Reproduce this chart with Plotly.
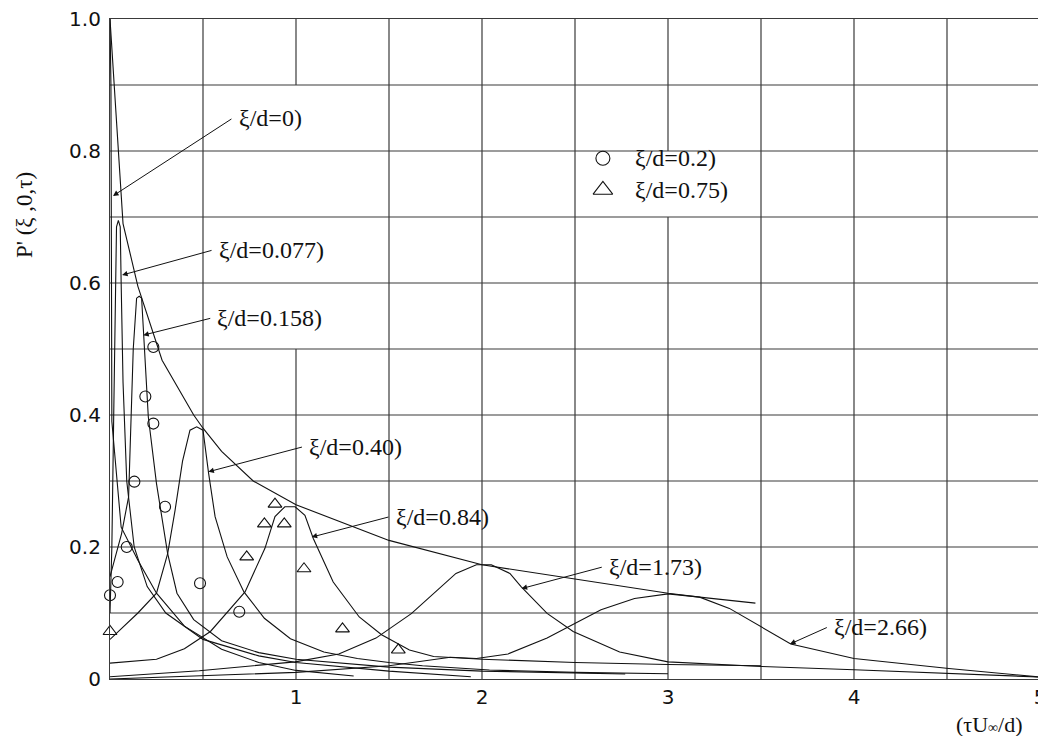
import plotly.graph_objects as go

# ---------------- data ----------------
env_x = [0.0, 0.07, 0.15, 0.28, 0.45, 0.5, 0.6, 0.77, 1.0, 1.5, 2.0, 2.5, 3.0, 3.17, 3.47]
env_y = [1.0, 0.69, 0.595, 0.483, 0.40, 0.38, 0.345, 0.30, 0.264, 0.21, 0.173, 0.151, 0.13, 0.124, 0.115]

c0_x = [0.0, 0.005, 0.008, 0.01, 0.06, 0.15, 0.25, 0.4, 0.6, 0.8, 1.0, 1.31]
c0_y = [1.0, 0.9, 0.6, 0.39, 0.23, 0.18, 0.13, 0.08, 0.045, 0.025, 0.013, 0.0045]

c077_x = [0.0, 0.01, 0.02, 0.028, 0.035, 0.045, 0.055, 0.06, 0.07, 0.09, 0.13, 0.2, 0.3, 0.5, 0.8, 1.0, 1.5, 1.94]
c077_y = [0.10, 0.2, 0.4, 0.6, 0.685, 0.695, 0.685, 0.6, 0.45, 0.3, 0.2, 0.14, 0.1, 0.06, 0.035, 0.025, 0.012, 0.0035]

c158_x = [0.0, 0.062, 0.10, 0.125, 0.143, 0.157, 0.17, 0.18, 0.206, 0.25, 0.31, 0.36, 0.45, 0.6, 0.8, 1.0, 1.5, 2.0, 2.77]
c158_y = [0.155, 0.22, 0.276, 0.5, 0.577, 0.58, 0.577, 0.524, 0.397, 0.296, 0.19, 0.13, 0.09, 0.058, 0.04, 0.03, 0.018, 0.012, 0.0076]

c040_x = [0.0, 0.15, 0.25, 0.31, 0.35, 0.39, 0.43, 0.466, 0.5, 0.53, 0.565, 0.63, 0.72, 0.83, 0.97, 1.15, 1.33, 1.5, 1.68, 2.04, 2.5, 3.0]
c040_y = [0.06, 0.10, 0.13, 0.19, 0.256, 0.33, 0.377, 0.382, 0.377, 0.312, 0.246, 0.185, 0.132, 0.092, 0.061, 0.041, 0.031, 0.025, 0.02, 0.0136, 0.01, 0.008]

c084_x = [0.0, 0.25, 0.40, 0.54, 0.726, 0.833, 0.887, 0.94, 0.995, 1.048, 1.093, 1.2, 1.34, 1.46, 1.61, 1.74, 2.0, 2.5, 3.0, 3.5]
c084_y = [0.024, 0.030, 0.046, 0.072, 0.132, 0.198, 0.246, 0.261, 0.261, 0.248, 0.213, 0.147, 0.094, 0.067, 0.044, 0.034, 0.03, 0.025, 0.022, 0.02]

c173_x = [0.0, 0.48, 0.995, 1.23, 1.43, 1.62, 1.86, 1.97, 2.05, 2.15, 2.21, 2.35, 2.49, 2.74, 3.0, 3.5, 4.0, 4.5, 5.0]
c173_y = [0.0035, 0.0126, 0.026, 0.038, 0.062, 0.099, 0.16, 0.173, 0.173, 0.16, 0.14, 0.0995, 0.072, 0.041, 0.026, 0.019, 0.014, 0.009, 0.003]

c266_x = [0.0, 1.0, 1.5, 1.83, 1.97, 2.14, 2.35, 2.64, 2.82, 3.0, 3.17, 3.33, 3.66, 4.0, 4.51, 5.0]
c266_y = [0.0, 0.01, 0.02, 0.033, 0.031, 0.038, 0.062, 0.105, 0.122, 0.129, 0.124, 0.107, 0.053, 0.031, 0.016, 0.003]

circ_x = [0.0, 0.041, 0.09, 0.131, 0.19, 0.233, 0.233, 0.296, 0.484, 0.695]
circ_y = [0.127, 0.147, 0.2, 0.299, 0.428, 0.503, 0.387, 0.261, 0.145, 0.102]

tri_x = [0.0, 0.735, 0.83, 0.887, 0.937, 1.043, 1.25, 1.55]
tri_y = [0.072, 0.185, 0.235, 0.265, 0.235, 0.167, 0.076, 0.044]

curve_labels = ["ξ/d=0)", "ξ/d=0.077)", "ξ/d=0.158)", "ξ/d=0.40)", "ξ/d=0.84)", "ξ/d=1.73)", "ξ/d=2.66)"]
label_tail_x = [0.661, 0.554, 0.547, 1.04, 1.505, 2.652, 3.862]
label_tail_y = [0.85, 0.65, 0.547, 0.352, 0.246, 0.17, 0.079]
label_head_x = [0.016, 0.065, 0.179, 0.529, 1.084, 2.213, 3.656]
label_head_y = [0.732, 0.612, 0.521, 0.314, 0.215, 0.137, 0.053]

legend_labels = ["ξ/d=0.2)", "ξ/d=0.75)"]

x_ticks = [1, 2, 3, 4, 5]
y_ticks = [0, 0.2, 0.4, 0.6, 0.8, 1.0]
y_tick_text = ["0", "0.2", "0.4", "0.6", "0.8", "1.0"]

# ---------------- figure ----------------
SERIF = "Liberation Serif"
SANS = "DejaVu Sans"
INK = "#111111"
GRID = "#3a3a3a"
LABEL_SIZE = 24

fig = go.Figure()

line_style = dict(color=INK, width=1.1)
for xs, ys in [(env_x, env_y), (c0_x, c0_y), (c077_x, c077_y), (c158_x, c158_y),
               (c040_x, c040_y), (c084_x, c084_y), (c173_x, c173_y), (c266_x, c266_y)]:
    fig.add_trace(go.Scatter(x=xs, y=ys, mode="lines", line=line_style,
                             showlegend=False, hoverinfo="skip", cliponaxis=False))

fig.add_trace(go.Scatter(x=circ_x, y=circ_y, mode="markers",
                         marker=dict(symbol="circle-open", size=11, color=INK, line=dict(width=1.1)),
                         showlegend=False, cliponaxis=False))
fig.add_trace(go.Scatter(x=tri_x, y=tri_y, mode="markers",
                         marker=dict(symbol="triangle-up-open", size=12, color=INK, line=dict(width=1.1)),
                         showlegend=False, cliponaxis=False))

# legend drawn inside the plot
fig.add_trace(go.Scatter(x=[2.65], y=[0.789], mode="markers",
                         marker=dict(symbol="circle-open", size=14, color=INK, line=dict(width=1.1)),
                         showlegend=False, hoverinfo="skip"))
fig.add_trace(go.Scatter(x=[2.65], y=[0.741], mode="markers",
                         marker=dict(symbol="triangle-up-open", size=17, color=INK, line=dict(width=1.1)),
                         showlegend=False, hoverinfo="skip"))

shapes = []
# interior grid lines every 0.5 / 0.1 (with the gaps seen in the reference)
for i in range(1, 10):
    xv = i * 0.5
    segs = [(0.0, 1.0)]
    if abs(xv - 1.0) < 1e-9:
        segs = [(0.0, 0.5), (0.9, 1.0)]
    if abs(xv - 3.0) < 1e-9:
        segs = [(0.0, 0.7), (0.8, 1.0)]
    for y0, y1 in segs:
        shapes.append(dict(type="line", xref="x", yref="y", x0=xv, x1=xv, y0=y0, y1=y1,
                           line=dict(color=GRID, width=1.2), layer="below"))
for j in range(1, 10):
    yv = j * 0.1
    shapes.append(dict(type="line", xref="x", yref="y", x0=0, x1=5, y0=yv, y1=yv,
                       line=dict(color=GRID, width=1.2), layer="below"))

annotations = []
for txt, tx, ty, hx, hy in zip(curve_labels, label_tail_x, label_tail_y, label_head_x, label_head_y):
    annotations.append(dict(x=hx, y=hy, ax=tx, ay=ty, xref="x", yref="y", axref="x", ayref="y",
                            text="", showarrow=True, arrowhead=2, arrowsize=1.1, arrowwidth=1,
                            arrowcolor=INK, standoff=0))
    annotations.append(dict(x=tx + 0.02, y=ty, xref="x", yref="y", text=txt, showarrow=False,
                            xanchor="left", yanchor="middle",
                            font=dict(family=SERIF, size=LABEL_SIZE, color=INK)))

for txt, ly in zip(legend_labels, [0.789, 0.741]):
    annotations.append(dict(x=2.81, y=ly, xref="x", yref="y", text=txt, showarrow=False,
                            xanchor="left", yanchor="middle",
                            font=dict(family=SERIF, size=LABEL_SIZE, color=INK)))

# pixel-positioned titles (page coordinates of the screenshot)
annotations.append(dict(x=24, y=215, xref="paper", yref="paper", text="P' (ξ ,0,τ)",
                        showarrow=False, textangle=-90, xanchor="center", yanchor="middle",
                        font=dict(family=SERIF, size=23, color=INK)))
annotations.append(dict(x=989, y=724, xref="paper", yref="paper",
                        text="(τU<span style='font-size:14px'>∞</span>/d)",
                        showarrow=False, xanchor="center", yanchor="middle",
                        font=dict(family=SERIF, size=22, color=INK)))

# the page body has an 8px margin: compensate so the plot lands at 110..1040 x 19..679
OFF = 8
W, H = 1046 - OFF, 736 - OFF
L, R, T = 110 - OFF, 6, 19 - OFF
B = H - T - 660

for a in annotations:
    if a.get("xref") == "paper":
        a["x"] = (a["x"] - OFF - L) / (W - L - R)
        a["y"] = 1 - (a["y"] - OFF - T) / (H - T - B)

axis_common = dict(showgrid=False, zeroline=False, showline=True, mirror=True,
                   linecolor=GRID, linewidth=1.2, ticks="", automargin=False,
                   ticklabeloverflow="allow")

fig.update_layout(
    width=W, height=H,
    margin=dict(l=L, r=R, t=T, b=B, pad=0),
    paper_bgcolor="white", plot_bgcolor="white",
    shapes=shapes, annotations=annotations,
    showlegend=False,
    xaxis=dict(range=[0, 5], tickmode="array", tickvals=x_ticks,
               ticktext=[str(v) for v in x_ticks],
               tickfont=dict(family=SANS, size=20, color=INK), **axis_common),
    yaxis=dict(range=[0, 1.0], tickmode="array", tickvals=y_ticks, ticktext=y_tick_text,
               ticklabelstandoff=4,
               tickfont=dict(family=SANS, size=20, color=INK), **axis_common),
)

fig.write_html("out.html")
